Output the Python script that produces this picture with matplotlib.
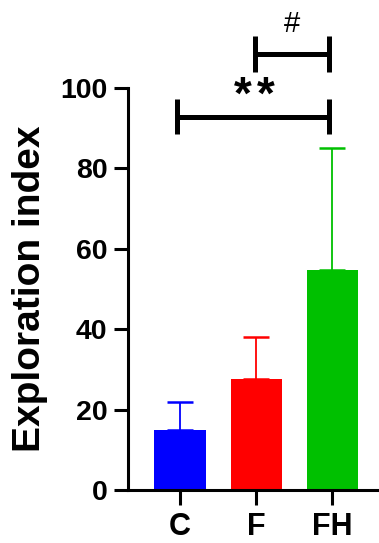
import numpy as np
import matplotlib.pyplot as plt

plt.rcParams['font.family'] = ['Liberation Sans', 'DejaVu Sans']

# data
groups = ['C', 'F', 'FH']
means = [14.9, 27.5, 54.7]
sem = [6.9, 10.6, 30.4]
colors = ['#0000FF', '#FF0000', '#00C000']

fig = plt.figure(figsize=(3.79, 5.43), dpi=100)
ax = fig.add_axes([0.338, 0.0976, 0.66, 0.7403])

x = np.arange(len(groups))
for i in range(len(groups)):
    ax.errorbar(x[i], means[i], yerr=[[0], [sem[i]]], color=colors[i],
                lw=1.3, capsize=9.5, capthick=1.8, zorder=1)
    ax.bar(x[i], means[i], width=0.67, color=colors[i], zorder=2)

ax.set_xlim(-0.68, 2.6)
ax.set_ylim(0, 100)
ax.set_yticks([0, 20, 40, 60, 80, 100])
ax.set_xticks(x)
ax.set_xticklabels(groups)

for s in ['top', 'right']:
    ax.spines[s].set_visible(False)
ax.spines['left'].set_linewidth(2.2)
ax.spines['bottom'].set_linewidth(2.2)
ax.tick_params(axis='y', length=10, width=2.2, pad=5, labelsize=20.5)
ax.tick_params(axis='x', length=11, width=2.2, pad=5, labelsize=22)
for lab in ax.get_xticklabels() + ax.get_yticklabels():
    lab.set_fontweight('bold')

ax.set_ylabel('Exploration index', fontsize=28, fontweight='bold', labelpad=9)

# significance brackets
def bracket(x1, x2, y, h):
    ax.plot([x1, x2], [y, y], color='black', lw=3.6, clip_on=False, solid_capstyle='butt')
    ax.plot([x1, x1], [y - h, y + h], color='black', lw=3.6, clip_on=False, solid_capstyle='butt')
    ax.plot([x2, x2], [y - h, y + h], color='black', lw=3.6, clip_on=False, solid_capstyle='butt')

bracket(-0.04, 1.96, 92.9, 4.4)
bracket(0.98, 1.96, 108.5, 4.4)

# ** drawn as two separated stars
for xs in [0.82, 1.12]:
    ax.text(xs, 97.8, '*', ha='center', va='center', fontsize=33,
            fontweight='bold', clip_on=False)
ax.text(1.47, 116.0, '#', ha='center', va='center', fontsize=21, clip_on=False)

fig.savefig('out.png', dpi=100)
